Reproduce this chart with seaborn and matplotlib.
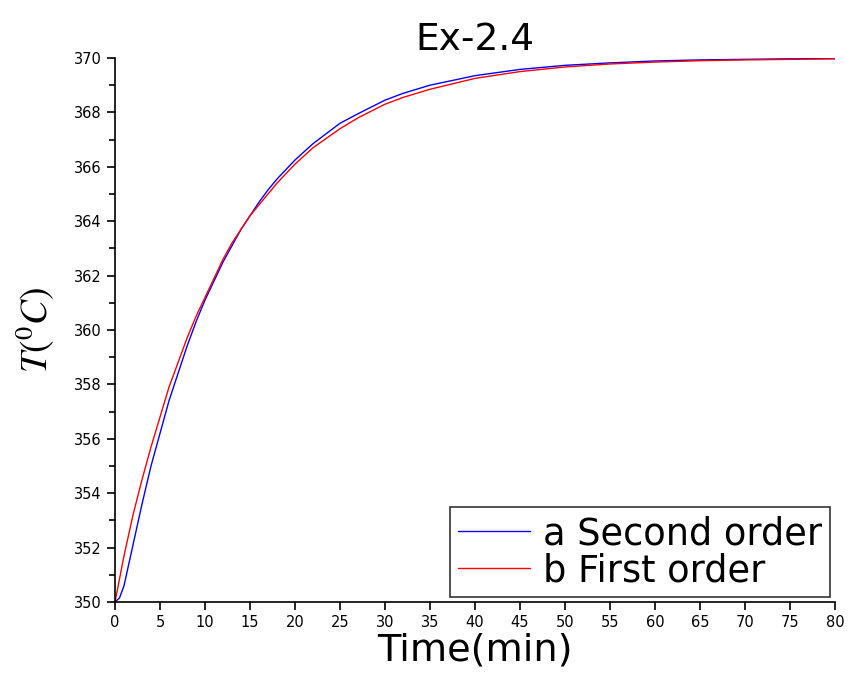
import numpy as np
import pandas as pd
import matplotlib
matplotlib.use("Agg")
import matplotlib.pyplot as plt
import seaborn as sns

# time grid (min) and temperatures
time_min = [0, 0.5, 1, 1.5, 2, 3, 4, 5, 6, 7, 8, 9, 10, 11, 12, 13, 14, 15, 16,
            17, 18, 19, 20, 22, 25, 27, 30, 32, 35, 40, 45, 50, 55, 60, 65, 70,
            75, 80]
second_order = [350.0, 350.15, 350.6, 351.35, 352.1, 353.6, 355.0, 356.2, 357.4,
                358.4, 359.4, 360.3, 361.1, 361.8, 362.5, 363.1, 363.7, 364.2,
                364.7, 365.15, 365.55, 365.9, 366.25, 366.85, 367.6, 367.95,
                368.45, 368.7, 369.0, 369.35, 369.58, 369.73, 369.82, 369.89,
                369.93, 369.95, 369.97, 369.98]
first_order = [350.0, 350.85, 351.7, 352.45, 353.2, 354.5, 355.7, 356.8, 357.9,
               358.8, 359.7, 360.5, 361.2, 361.9, 362.6, 363.2, 363.7, 364.2,
               364.6, 365.0, 365.4, 365.75, 366.1, 366.7, 367.4, 367.8, 368.3,
               368.55, 368.85, 369.25, 369.5, 369.67, 369.78, 369.85, 369.9,
               369.93, 369.95, 369.97]
labels = ["a Second order", "b First order"]

df = pd.concat([
    pd.DataFrame({"t": time_min, "T": second_order, "curve": labels[0]}),
    pd.DataFrame({"t": time_min, "T": first_order, "curve": labels[1]}),
])

sns.set_style("ticks")
plt.rcParams["mathtext.fontset"] = "stix"
plt.rcParams["text.color"] = "black"
plt.rcParams["axes.labelcolor"] = "black"

fig = plt.figure(figsize=(8.5, 6.79), dpi=100)
ax = fig.add_axes([0.1353, 0.1134, 0.8471, 0.8012])

sns.lineplot(data=df, x="t", y="T", hue="curve", palette=["blue", "red"],
             linewidth=1.0, ax=ax, legend=False)

ax.set_xlim(0, 80)
ax.set_ylim(350, 370)
ax.set_xticks(np.arange(0, 81, 5))
ax.set_yticks(np.arange(350, 371, 2))
ax.set_yticks(np.arange(350, 371, 1), minor=True)
ax.tick_params(axis="both", which="major", labelsize=10.5, length=6, width=1.2,
               colors="black")
ax.tick_params(axis="y", which="minor", length=4, width=1.2, colors="black")
sns.despine(ax=ax)
for s in ["left", "bottom"]:
    ax.spines[s].set_linewidth(1.2)
    ax.spines[s].set_color("black")

ax.set_title("Ex-2.4", fontsize=27, pad=6, color="black")
ax.set_xlabel("Time(min)", fontsize=27.5, labelpad=2, color="black")
ax.set_ylabel(r"$T(^0C)$", fontsize=27, labelpad=12, color="black")

handles = [plt.Line2D([], [], color="blue", lw=1.0),
           plt.Line2D([], [], color="red", lw=1.0)]
leg = ax.legend(handles, labels, loc="lower right", fontsize=26.5, frameon=True,
                fancybox=False, edgecolor="black", handlelength=1.95,
                borderpad=0.22, labelspacing=0.0, handletextpad=0.35,
                borderaxespad=0, bbox_to_anchor=(0.993, 0.009))
leg.get_frame().set_linewidth(1.2)

fig.savefig("out.png", dpi=100)
